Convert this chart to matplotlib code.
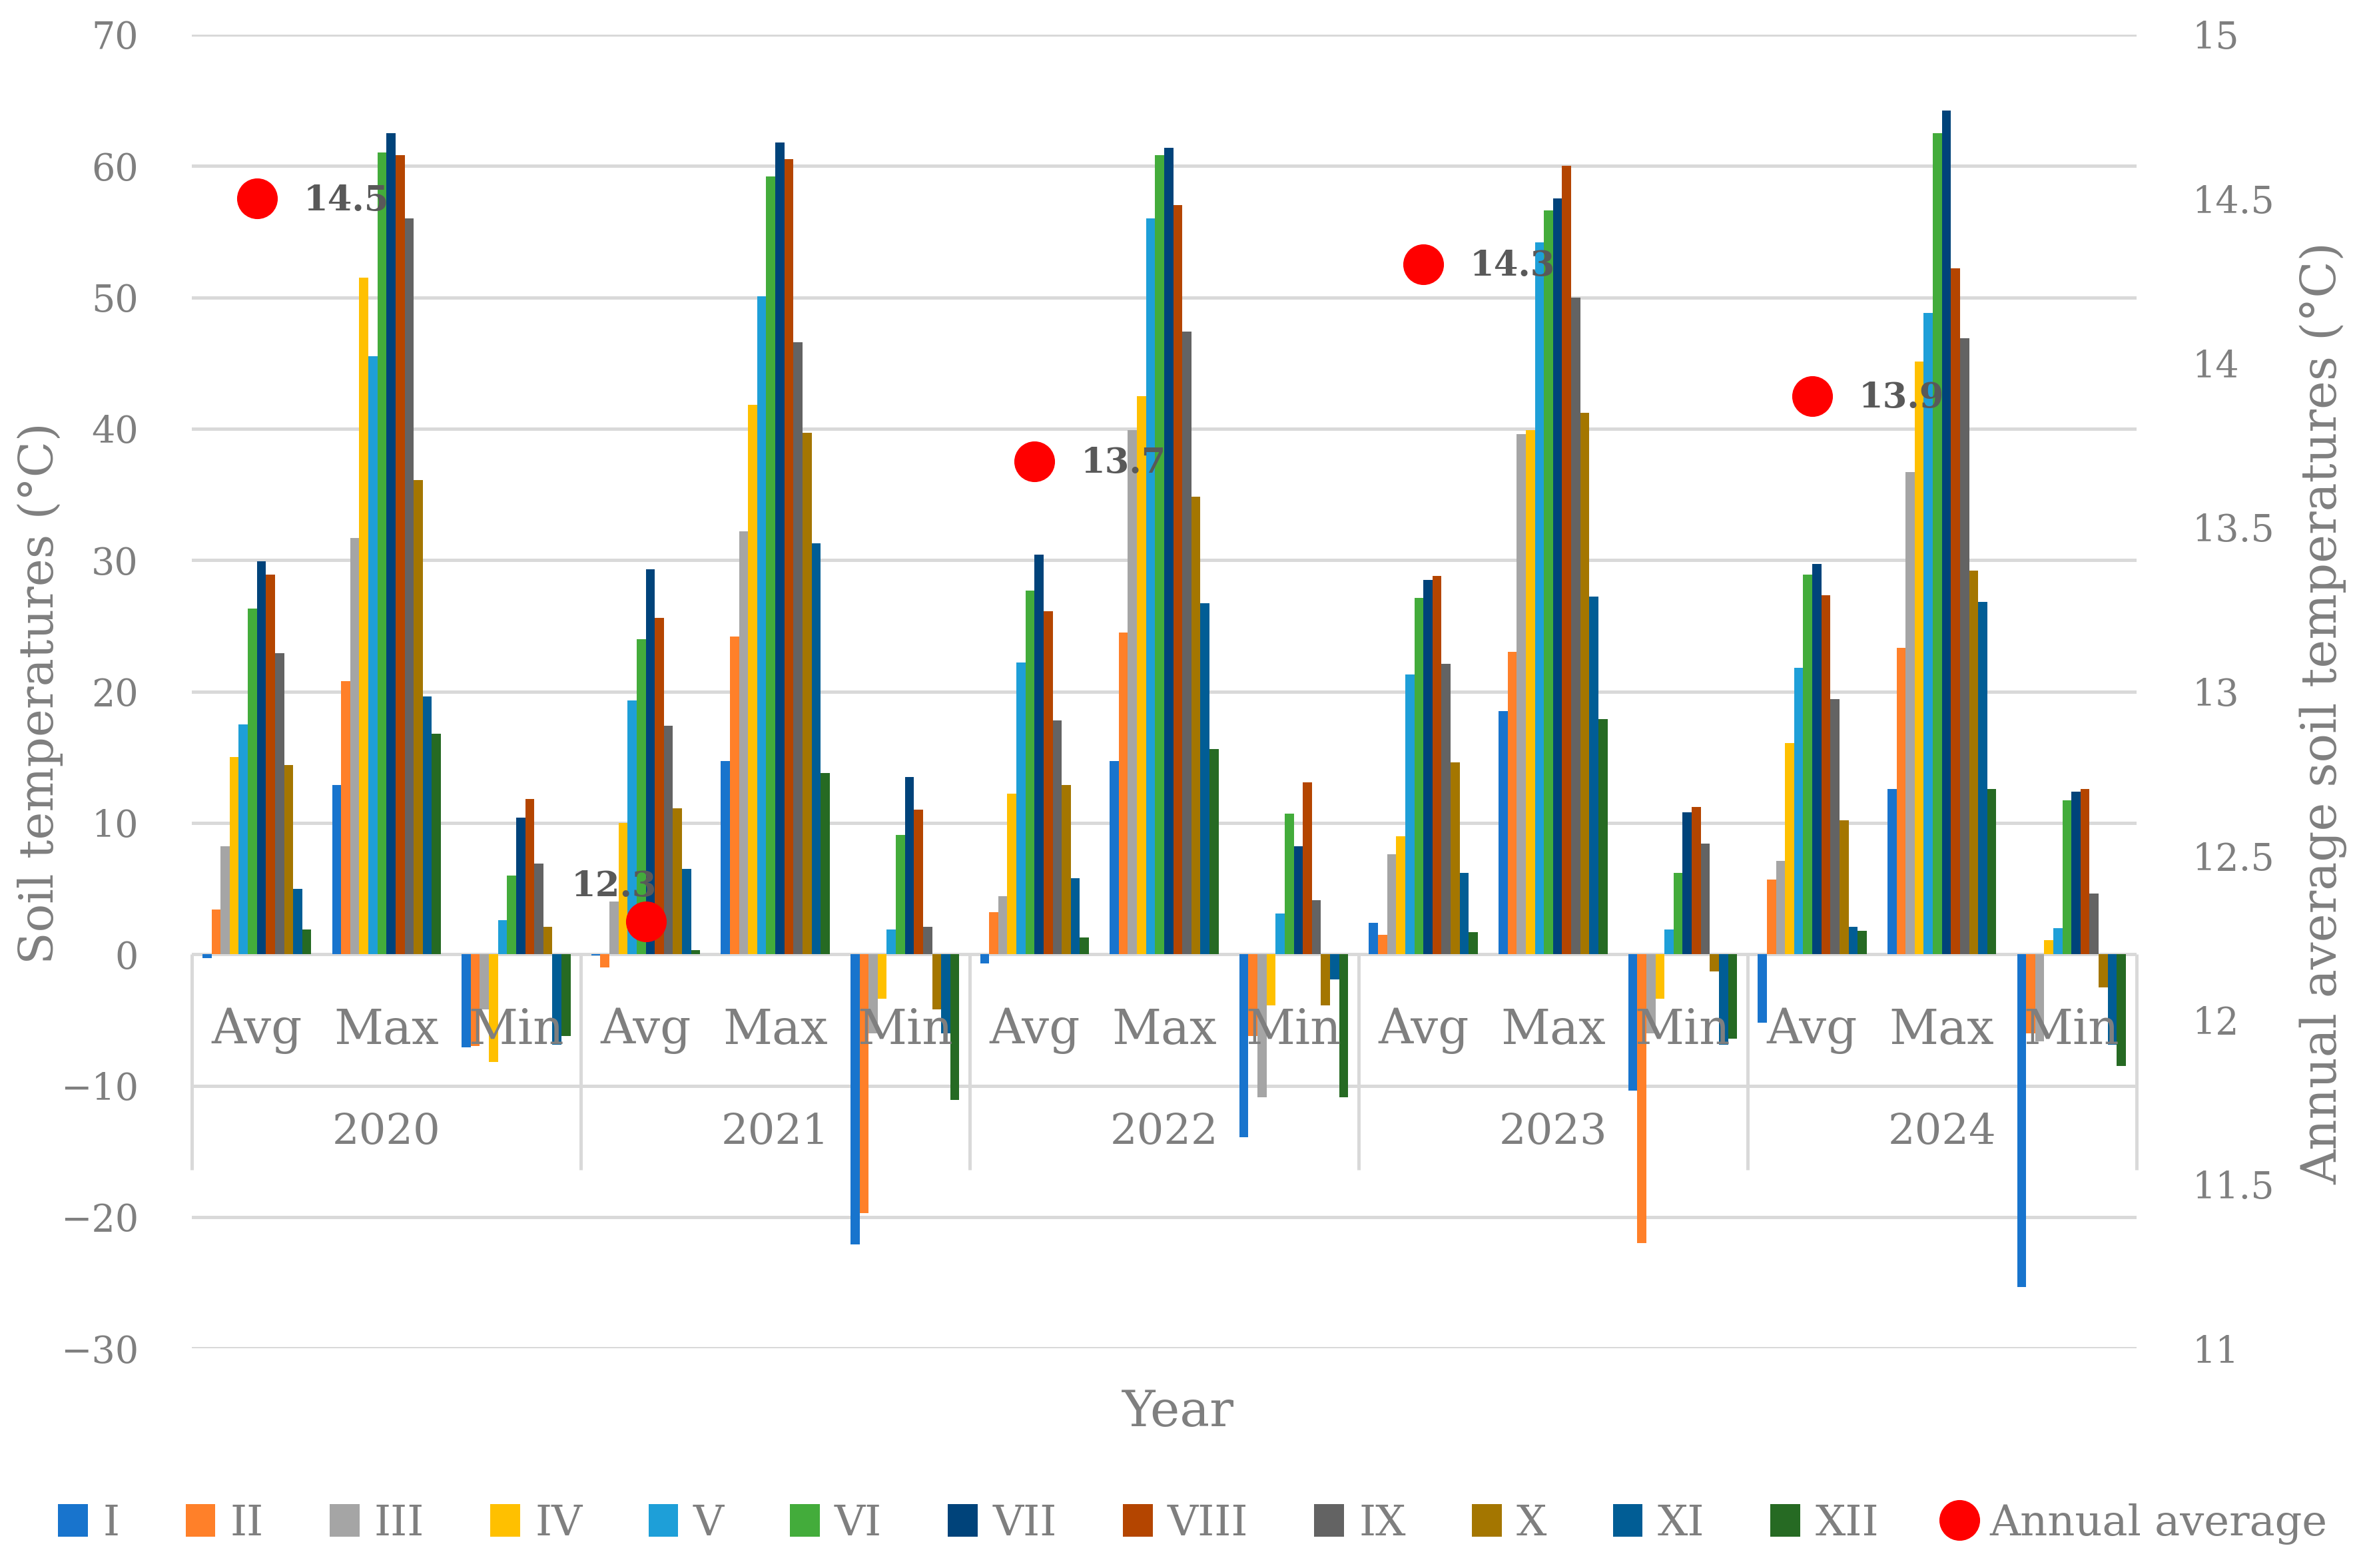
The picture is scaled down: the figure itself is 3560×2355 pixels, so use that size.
import matplotlib
matplotlib.use("Agg")
import matplotlib.pyplot as plt
import numpy as np
from matplotlib.patches import Patch
from matplotlib.lines import Line2D

plt.rcParams['font.family'] = ['DejaVu Serif']

years = ['2020', '2021', '2022', '2023', '2024']
stats = ['Avg', 'Max', 'Min']
months = ['I', 'II', 'III', 'IV', 'V', 'VI', 'VII', 'VIII', 'IX', 'X', 'XI', 'XII']

# monthly soil temperatures per year (I..XII)
avg_vals = [
    [-0.3, 3.4, 8.2, 15.0, 17.5, 26.3, 29.9, 28.9, 22.9, 14.4, 5.0, 1.9],
    [-0.1, -1.0, 4.0, 10.0, 19.3, 24.0, 29.3, 25.6, 17.4, 11.1, 6.5, 0.3],
    [-0.7, 3.2, 4.4, 12.2, 22.2, 27.7, 30.4, 26.1, 17.8, 12.9, 5.8, 1.3],
    [2.4, 1.5, 7.6, 9.0, 21.3, 27.1, 28.5, 28.8, 22.1, 14.6, 6.2, 1.7],
    [-5.2, 5.7, 7.1, 16.1, 21.8, 28.9, 29.7, 27.3, 19.4, 10.2, 2.1, 1.8],
]
max_vals = [
    [12.9, 20.8, 31.7, 51.5, 45.5, 61.0, 62.5, 60.8, 56.0, 36.1, 19.6, 16.8],
    [14.7, 24.2, 32.2, 41.8, 50.1, 59.2, 61.8, 60.5, 46.6, 39.7, 31.3, 13.8],
    [14.7, 24.5, 39.9, 42.5, 56.0, 60.8, 61.4, 57.0, 47.4, 34.8, 26.7, 15.6],
    [18.5, 23.0, 39.6, 39.9, 54.2, 56.6, 57.5, 60.0, 50.0, 41.2, 27.2, 17.9],
    [12.6, 23.3, 36.7, 45.1, 48.8, 62.5, 64.2, 52.2, 46.9, 29.2, 26.8, 12.6],
]
min_vals = [
    [-7.1, -7.0, -4.2, -8.2, 2.6, 6.0, 10.4, 11.8, 6.9, 2.1, -6.9, -6.2],
    [-22.1, -19.7, -6.0, -3.4, 1.9, 9.1, 13.5, 11.0, 2.1, -4.2, -6.0, -11.1],
    [-13.9, -6.2, -10.9, -3.9, 3.1, 10.7, 8.2, 13.1, 4.1, -3.9, -1.9, -10.9],
    [-10.4, -22.0, -6.0, -3.4, 1.9, 6.2, 10.8, 11.2, 8.4, -1.3, -6.9, -6.4],
    [-25.3, -6.0, -6.6, 1.1, 2.0, 11.7, 12.4, 12.6, 4.6, -2.5, -6.9, -8.5],
]
annual_avg = [14.5, 12.3, 13.7, 14.3, 13.9]

colors = ['#1874CD', '#FF8029', '#A5A5A5', '#FFC000', '#1E9FD8', '#43AC3B',
          '#00437A', '#B44500', '#636363', '#A47600', '#015D95', '#266A23']
gray = '#7F7F7F'
line_c = '#D9D9D9'

# one row per category (year x stat), columns = months
table = []
for y in range(len(years)):
    table.append(avg_vals[y])
    table.append(max_vals[y])
    table.append(min_vals[y])
table = np.array(table)
n_cat = table.shape[0]

fig = plt.figure(figsize=(17.8, 11.775), dpi=200)
ax = fig.add_axes([0.081, 0.14, 0.82, 0.838])

w = 0.07
centers = np.arange(n_cat) + 0.5
for m in range(len(months)):
    ax.bar(centers + (m - 5.5) * w, table[:, m], width=w, color=colors[m],
           zorder=3, linewidth=0)

ax.set_xlim(0, n_cat)
ax.set_ylim(-30, 70)
ax.set_yticks(np.arange(-30, 71, 10))
ax.set_xticks([])
ax.yaxis.grid(True, color=line_c, lw=1.8, zorder=0)
ax.set_axisbelow(True)
for s in ax.spines.values():
    s.set_visible(False)
ax.tick_params(axis='y', length=0, pad=29, labelsize=20, labelcolor=gray)

# multi-level category axis
box_bottom = -16.4
for b in range(0, n_cat + 1, 3):
    ax.plot([b, b], [0, box_bottom], color=line_c, lw=1.8, zorder=2,
            clip_on=False, solid_capstyle='butt')
ax.plot([0, n_cat], [-10, -10], color=line_c, lw=1.8, zorder=2)
ax.plot([0, n_cat], [0, 0], color=line_c, lw=1.8, zorder=2)
for c in range(n_cat):
    ax.text(centers[c], -5.8, stats[c % 3], ha='center', va='center',
            fontsize=26, color=gray, zorder=5)
for y in range(len(years)):
    ax.text(3 * y + 1.5, -13.6, years[y], ha='center', va='center',
            fontsize=23, color=gray, zorder=5)

ax2 = ax.twinx()
ax2.set_ylim(11, 15)
ax2.set_yticks(np.arange(11, 15.01, 0.5))
ax2.set_yticklabels(['11', '11.5', '12', '12.5', '13', '13.5', '14', '14.5', '15'])
for s in ax2.spines.values():
    s.set_visible(False)
ax2.tick_params(axis='y', length=0, pad=30, labelsize=20, labelcolor=gray)

avg_x = centers[0::3]
ax2.plot(avg_x, annual_avg, 'o', color='#FF0000', markersize=21, zorder=6,
         linestyle='none')
label_offsets = [(25, -1), (-17, 19), (25, -1), (25, -1), (25, -1)]
for x, v, off in zip(avg_x, annual_avg, label_offsets):
    ha = 'left' if off[0] > 0 else 'center'
    ax2.annotate(f'{v:.1f}', (x, v), xytext=off, textcoords='offset points',
                 ha=ha, va='center', fontsize=19, fontweight='bold',
                 color='#595959', zorder=7)

fig.text(0.017, 0.558, 'Soil temperatures (°C)', rotation=90, ha='center',
         va='center', fontsize=25.5, color=gray)
fig.text(0.980, 0.545, 'Annual average soil temperatures (°C)', rotation=90,
         ha='center', va='center', fontsize=26, color=gray)
fig.text(0.497, 0.099, 'Year', ha='center', va='center', fontsize=27, color=gray)

handles = [Patch(facecolor=c, edgecolor='none') for c in colors]
handles.append(Line2D([], [], marker='o', color='#FF0000', linestyle='none',
                      markersize=21))
fig.legend(handles, months + ['Annual average'], loc='center',
           bbox_to_anchor=(0.503, 0.028), ncol=13, frameon=False, fontsize=23,
           labelcolor=gray, handlelength=0.7, handleheight=0.8,
           handletextpad=0.35, columnspacing=1.55)

fig.savefig('out.png', dpi=200)
